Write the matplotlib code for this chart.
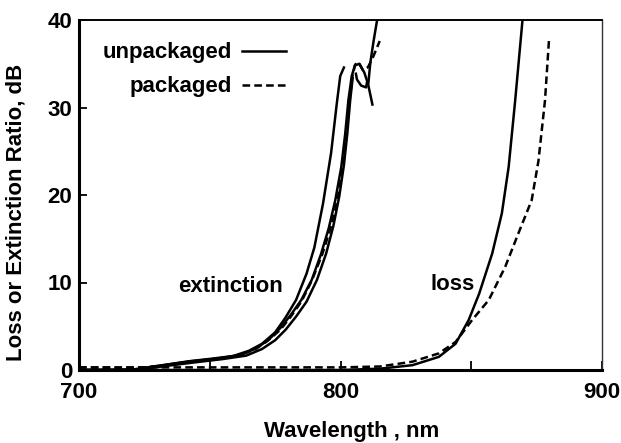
import matplotlib
matplotlib.use("Agg")
import matplotlib.pyplot as plt
from matplotlib.lines import Line2D

plt.rcParams['font.family'] = ['Liberation Sans', 'DejaVu Sans']
plt.rcParams['font.weight'] = 'bold'
plt.rcParams['lines.scale_dashes'] = False

# ---- data (wavelength nm, dB) ----
ext_a_x = [700, 715, 722, 732, 742, 751, 759, 765, 770, 775, 779, 783, 787, 790, 793.3, 796.4, 798.6, 799.9, 801.5]
ext_a_y = [0, 0, 0.1, 0.55, 1.0, 1.3, 1.6, 2.2, 3.0, 4.3, 6.0, 8.0, 11.0, 14.0, 19.0, 24.8, 30.5, 33.6, 34.7]

ext_b_x = [700, 720, 731, 743, 753, 762, 768, 773, 777, 781, 785, 789, 792.5, 795.5, 798, 800.3, 801.8, 803,
           804.3, 805.5, 807.2, 809.1, 810.2, 809.8, 807.9, 806.3, 805.8]
ext_b_y = [0, 0.02, 0.5, 1.0, 1.3, 1.75, 2.5, 3.6, 4.8, 6.3, 8.0, 10.3, 13.2, 16.2, 19.4, 23.2, 27, 30.8,
           33.6, 34.8, 35.0, 34.0, 33.0, 32.3, 32.5, 33.2, 34.0]

ext_c_x = [700, 722, 733, 745, 755, 764, 770, 775, 779, 783, 787, 791, 794.5, 797.3, 799.5, 801.3, 802.6, 803.7, 804.7]
ext_c_y = [0, 0.03, 0.45, 0.9, 1.25, 1.65, 2.4, 3.4, 4.6, 6.1, 7.8, 10.3, 13.3, 16.5, 19.8, 23.4, 27, 30.8, 33.5]

ext_d_x = [812.3, 810.6, 811.4, 812.6, 814.0]
ext_d_y = [30.2, 32.6, 35.1, 37.5, 40.0]

ext_pk_x = [700, 715, 725, 735, 742, 750, 760, 767, 772, 777, 781, 785, 789, 793, 796.3, 799, 800.9, 802.4,
            803.5, 804.5, 805.6, 806.8, 808.5, 810.5, 812.5, 815]
ext_pk_y = [0.3, 0.25, 0.3, 0.6, 0.9, 1.2, 1.6, 2.3, 3.3, 4.6, 6.1, 7.8, 10.2, 13.2, 16.3, 19.6, 23.3, 27,
            30.8, 33.5, 34.9, 35.2, 34.3, 34.6, 35.8, 37.6]

loss_unpk_x = [700, 800, 815, 827.5, 837.6, 844, 849, 853, 858, 861.7, 864.3, 866.8, 869.6]
loss_unpk_y = [0, 0, 0.15, 0.55, 1.5, 3.0, 5.7, 8.7, 13.3, 17.9, 23.2, 30.8, 40]

loss_pk_x = [700, 760, 800, 815, 827.5, 837.6, 844, 850.3, 856.7, 863, 868, 873.1, 875.7, 878.2, 879.7]
loss_pk_y = [0.3, 0.3, 0.3, 0.4, 0.95, 1.9, 3.2, 5.7, 8.0, 11.8, 15.6, 19.4, 23.9, 30.8, 37.6]

x_ticks = [700, 800, 900]
x_minor = [750, 850]
y_ticks = [0, 10, 20, 30, 40]

# ---- figure ----
fig = plt.figure(figsize=(6.21, 4.43), dpi=100)
ax = fig.add_axes([79/621, 1 - 370/443, 523/621, 350/443])

lw = 1.8
dash = (0, (5.5, 3.0))
for xs, ys in [(ext_a_x, ext_a_y), (ext_b_x, ext_b_y), (ext_c_x, ext_c_y), (ext_d_x, ext_d_y),
               (loss_unpk_x, loss_unpk_y)]:
    ax.plot(xs, ys, color='black', lw=lw, solid_capstyle='butt', solid_joinstyle='round', clip_on=False)
for xs, ys in [(ext_pk_x, ext_pk_y), (loss_pk_x, loss_pk_y)]:
    ax.plot(xs, ys, color='black', lw=lw, linestyle=dash, clip_on=False)

ax.set_xlim(700, 900)
ax.set_ylim(0, 40)
ax.set_xticks(x_ticks)
ax.set_xticks(x_minor, minor=True)
ax.set_yticks(y_ticks)
ax.tick_params(axis='x', which='both', direction='in', length=6.5, width=1.3, pad=9, labelsize=16)
ax.tick_params(axis='y', direction='in', length=5.8, width=1.3, pad=5, labelsize=16)
for lab in ax.get_xticklabels() + ax.get_yticklabels():
    lab.set_fontweight('bold')

ax.spines['left'].set_linewidth(2.2)
ax.spines['bottom'].set_linewidth(2.2)
ax.spines['top'].set_linewidth(1.4)
ax.spines['right'].set_linewidth(1.0)
ax.spines['right'].set_color('#333333')

ax.set_xlabel('Wavelength , nm', fontsize=16, fontweight='bold')
ax.set_ylabel('Loss or Extinction Ratio, dB', fontsize=16, fontweight='bold')
ax.xaxis.set_label_coords(0.522, -0.146)
ax.yaxis.set_label_coords(-0.10, 0.449)

ax.text(758, 9.6, 'extinction', fontsize=16, fontweight='bold', ha='center', va='center')
ax.text(843, 9.8, 'loss', fontsize=16, fontweight='bold', ha='center', va='center')

handles = [Line2D([], [], color='black', lw=lw),
           Line2D([], [], color='black', lw=lw, linestyle=dash)]
leg = ax.legend(handles, ['unpackaged', 'packaged'], loc='upper left',
                bbox_to_anchor=(0.046, 0.936), borderaxespad=0, borderpad=0,
                frameon=False, markerfirst=False, handlelength=1.94,
                handletextpad=0.45, labelspacing=0.58,
                prop={'size': 16, 'weight': 'bold'})

fig.savefig('out.png', dpi=100)
